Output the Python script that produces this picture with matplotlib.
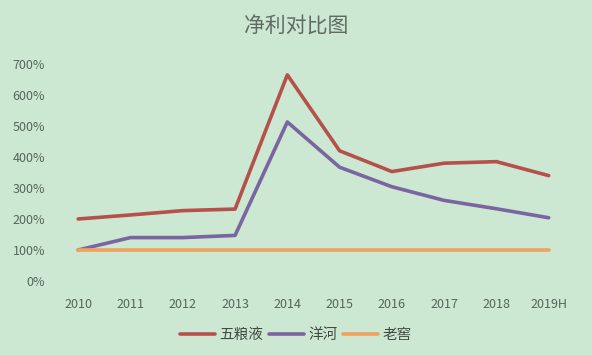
import matplotlib
matplotlib.use('Agg')
import matplotlib.pyplot as plt
from matplotlib.ticker import FuncFormatter

plt.rcParams['font.family'] = ['Noto Sans CJK SC', 'DejaVu Sans']

# 数据
years = ['2010', '2011', '2012', '2013', '2014', '2015', '2016', '2017', '2018', '2019H']
wuliangye = [200, 213, 227, 232, 665, 420, 353, 380, 385, 340]
yanghe = [100, 140, 140, 147, 513, 367, 304, 260, 233, 204]
laojiao = [100, 100, 100, 100, 100, 100, 100, 100, 100, 100]

bg = '#cce8d2'
fig = plt.figure(figsize=(5.92, 3.55), dpi=100, facecolor=bg)
ax = fig.add_axes([0.088, 0.2085, 0.883, 0.6112], facecolor=bg)

x = range(len(years))
ax.plot(x, wuliangye, color='#b5504a', lw=2.6, label='五粮液', solid_capstyle='round')
ax.plot(x, yanghe, color='#7a65a0', lw=2.6, label='洋河', solid_capstyle='round')
ax.plot(x, laojiao, color='#f0a25e', lw=2.6, label='老窖', solid_capstyle='round')

ax.set_xlim(-0.5, len(years) - 0.5)
ax.set_ylim(0, 700)
ax.set_yticks(range(0, 701, 100))
ax.yaxis.set_major_formatter(FuncFormatter(lambda v, p: f'{int(v)}%'))
ax.set_xticks(list(x))
ax.set_xticklabels(years)

for s in ax.spines.values():
    s.set_visible(False)
ax.tick_params(length=0, colors='#55655a', labelsize=9)
ax.tick_params(axis='x', pad=12)
ax.tick_params(axis='y', pad=5)

fig.text(0.5, 0.925, '净利对比图', ha='center', va='center', fontsize=15, color='#606a62')

fig.legend(loc='center', bbox_to_anchor=(0.5, 0.056), ncol=3, frameon=False,
           fontsize=10.5, handlelength=2.4, handletextpad=0.3, columnspacing=0.4,
           labelcolor='#404a42')

fig.savefig('out.png', dpi=100, facecolor=bg)
